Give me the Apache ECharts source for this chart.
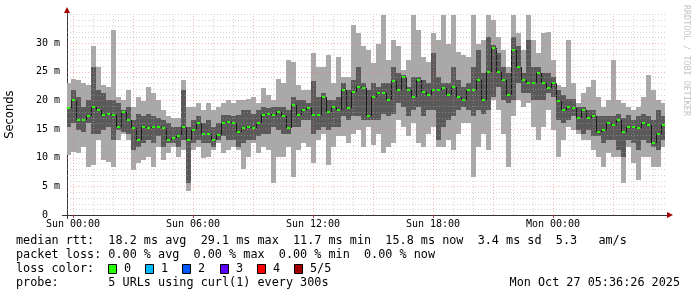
<!DOCTYPE html>
<html><head><meta charset="utf-8">
<script src="https://cdn.jsdelivr.net/npm/echarts@6/dist/echarts.min.js"></script>
<style>html,body{margin:0;padding:0;background:#fff}#c{width:697px;height:297px}</style>
</head><body><div id="c"></div>
<script>
// sampling grid (hours since Sun 00:00), 15-minute consolidation
const START_H = -0.25, STEP_H = 0.25;
const tickHours = [0, 6, 12, 18, 24];
const tickLabels = ['Sun 00:00', 'Sun 06:00', 'Sun 12:00', 'Sun 18:00', 'Mon 00:00'];

// round-trip times in ms
const rttMax = [
23.0,23.8,23.5,23.0,22.7,29.4,25.9,22.7,22.4,32.3,
20.6,20.1,21.8,18.9,20.6,19.8,22.4,21.2,20.1,18.3,
17.2,16.9,16.9,23.5,18.9,18.9,19.5,18.3,19.5,18.3,
18.9,19.5,20.1,19.5,20.1,
20.1,20.3,20.6,19.5,22.1,20.9,20.1,23.8,23.0,27.0,
26.7,22.7,21.8,21.8,28.2,25.9,25.9,27.9,23.0,27.6,
24.0,24.1,33.1,31.7,29.4,28.8,26.5,29.9,34.9,27.0,
30.5,29.4,25.3,27.0,34.9,32.3,27.6,26.7,31.7,30.5,
34.9,29.9,34.9,28.5,27.9,27.6,
34.9,29.9,30.5,34.9,34.0,31.1,28.8,25.9,34.9,31.7,
28.8,34.9,30.5,28.2,31.7,32.0,27.0,22.7,22.4,30.5,
23.0,19.5,21.2,22.4,23.5,20.6,18.9,20.1,27.0,20.1,
19.5,18.9,18.3,18.9,20.6,24.4,21.8,20.1,19.5];
const rttMin = [
10.5,11.0,10.8,11.9,8.4,8.7,13.1,9.6,9.3,8.4,
13.1,14.2,13.1,7.8,9.0,9.6,10.2,8.4,11.9,9.6,
10.8,11.9,10.2,11.3,4.1,11.3,11.9,9.9,10.2,11.3,
12.5,10.8,11.3,11.9,11.3,
8.1,10.2,12.5,10.8,11.9,11.3,5.5,10.2,10.2,11.9,
6.7,11.3,12.5,11.9,9.0,13.1,14.2,8.7,11.9,13.7,
13.7,12.5,14.2,14.8,11.9,15.4,12.2,14.2,10.8,11.9,
12.5,16.6,15.4,13.7,16.0,12.5,11.9,14.2,15.4,11.9,
11.9,13.1,11.3,14.2,16.0,16.0,
6.7,11.9,14.2,11.3,20.1,18.3,14.2,8.4,17.2,20.1,
18.9,19.5,15.4,13.1,15.4,18.3,14.8,10.2,13.1,15.4,
14.8,14.2,13.1,13.1,11.3,10.2,8.4,10.8,10.2,10.2,
5.5,11.9,9.0,6.1,10.2,10.2,8.4,8.4,11.9];
const rttHi = [
18.9,21.8,20.6,18.9,20.1,25.9,21.8,21.2,20.1,20.1,
19.5,18.3,18.9,16.6,17.7,17.2,17.7,17.2,16.9,16.6,
16.0,15.4,15.4,21.8,15.4,16.6,17.2,16.0,16.6,15.4,
16.0,17.4,17.4,17.2,17.4,
18.3,18.3,17.7,18.3,18.9,18.6,18.9,18.9,18.9,18.3,
20.6,20.1,20.1,19.5,23.3,20.6,21.2,20.1,20.1,20.6,
23.0,21.8,23.5,25.9,23.0,21.8,23.0,22.4,23.0,23.0,
25.9,24.7,24.4,22.4,24.1,24.1,23.5,23.0,28.2,24.1,
23.0,23.0,25.9,23.5,22.4,23.0,
25.9,28.8,24.7,31.1,29.6,28.2,25.9,24.7,31.1,29.4,
24.7,30.5,25.9,25.9,24.7,24.7,24.1,21.8,20.9,20.3,
20.3,18.9,18.9,18.3,18.3,17.2,17.2,17.2,17.2,17.7,
16.9,17.4,16.6,17.2,17.7,17.2,16.6,18.3,17.2];
const rttLo = [
15.4,16.0,14.8,14.5,16.0,14.2,14.2,14.8,15.4,13.1,
14.8,14.5,14.2,11.3,11.9,12.5,13.1,12.5,13.7,11.9,
12.5,12.5,11.9,13.1,5.5,12.5,13.1,12.5,12.5,11.9,
13.1,13.7,13.1,13.1,11.9,
12.5,13.1,13.1,13.7,14.2,14.2,15.4,14.8,14.2,14.2,
15.4,15.4,16.6,16.6,14.2,14.8,15.4,14.8,15.4,15.4,
17.2,16.6,17.2,17.2,16.6,16.6,16.6,16.6,17.7,17.2,
17.7,19.5,18.9,17.2,18.3,18.9,17.2,18.3,18.3,13.1,
15.4,16.6,17.2,18.3,18.9,18.3,
17.2,18.3,17.7,18.3,20.6,22.4,20.1,19.5,20.1,23.0,
21.2,21.2,20.1,20.1,20.1,21.2,20.6,16.6,16.0,16.6,
17.2,14.8,14.2,14.8,13.7,13.7,12.5,13.1,13.1,11.3,
10.2,13.1,12.5,11.3,13.1,12.5,11.9,11.3,13.1];
const rttMedian = [
18.6,20.1,16.6,16.6,17.2,18.9,18.3,17.4,17.7,17.4,
15.4,18.0,16.6,15.1,13.1,15.4,15.1,15.4,15.4,15.1,
13.1,13.4,13.7,15.4,13.1,14.8,16.0,14.2,14.2,13.1,
14.0,16.0,16.3,16.0,14.5,
15.1,15.4,15.1,16.0,17.4,17.7,17.4,18.0,17.2,15.1,
19.2,17.4,18.3,18.6,17.4,17.4,20.6,18.0,18.9,18.3,
21.8,18.6,21.5,22.4,22.1,17.2,20.6,21.2,21.2,20.1,
23.3,21.8,24.1,21.8,20.6,23.5,21.5,20.9,21.8,21.8,
22.1,20.9,22.4,20.6,20.1,21.8,
21.8,23.5,20.1,25.0,29.1,25.0,23.5,20.9,28.8,25.9,
23.5,23.0,23.0,24.7,23.0,22.1,23.0,19.8,18.3,18.9,
18.6,16.9,18.3,16.9,17.2,14.5,14.8,16.0,15.7,16.6,
14.5,15.4,15.4,15.1,16.0,15.7,12.5,14.2,15.7];

const legendLines = [
  'median rtt:  18.2 ms avg  29.1 ms max  11.7 ms min  15.8 ms now  3.4 ms sd  5.3   am/s',
  'packet loss: 0.00 % avg  0.00 % max  0.00 % min  0.00 % now',
  'loss color:',
  'probe:       5 URLs using curl(1) every 300s'
];
const lossLabels = ['0', '1', '2', '3', '4', '5/5'];
const lossColors = ['#26ff00', '#00b8ff', '#0059ff', '#5e00ff', '#ff0000', '#a00000'];
const stampText = 'Mon Oct 27 05:36:26 2025';
const sideText = 'RRDTOOL / TOBI OETIKER';

const X_MIN = -0.3, X_MAX = 29.6, Y_MAX = 35;
const rows = rttMedian.map((m, i) => [START_H + i * STEP_H, rttMin[i], rttLo[i], rttHi[i], rttMax[i], m, i > 0 ? rttMedian[i - 1] : m]);
const vGrid = []; for (let h = 0; h <= 29; h++) vGrid.push([h, h % 3 === 0 ? 1 : 0]);
const hGrid = []; for (let v = 1; v <= 35; v++) hGrid.push([v, (v % 5 === 0 && v < 35) ? 1 : 0]);

const chart = echarts.init(document.getElementById('c'), null, {renderer: 'canvas'});
const MONO = 'DejaVu Sans Mono';

function smoke(params, api) {
  const t = api.value(0);
  const x0 = Math.round(api.coord([t - STEP_H / 2, 0])[0]);
  const x1 = Math.round(api.coord([t + STEP_H / 2, 0])[0]);
  const y = k => Math.round(api.coord([t, api.value(k)])[1]);
  const yMin = y(1), yLo = y(2), yHi = y(3), yMax = y(4), yMed = y(5), yPrev = y(6);
  return {type: 'group', children: [
    {type: 'rect', shape: {x: x0, y: yMax, width: x1 - x0, height: yMin - yMax}, style: {fill: '#a9a9a9'}},
    {type: 'rect', shape: {x: x0, y: yHi, width: x1 - x0, height: yLo - yHi}, style: {fill: '#5a5a5a'}},
    {type: 'line', shape: {x1: x0 + 0.5, y1: yPrev, x2: x0 + 0.5, y2: yMed}, style: {stroke: '#1a1a1a', lineWidth: 1}}
  ]};
}
function median(params, api) {
  const t = api.value(0);
  const xc = api.coord([t, 0])[0];
  const ym = Math.round(api.coord([t, api.value(5)])[1]);
  return {type: 'rect', shape: {x: Math.round(xc - 1.5), y: ym - 1, width: 3, height: 2}, style: {fill: lossColors[0]}};
}
function vLine(params, api) {
  const h = api.value(0), major = api.value(1);
  const x = Math.round(api.coord([h, 0])[0]) + 0.5;
  const yb = api.coord([h, 0])[1], yt = api.coord([h, Y_MAX])[1];
  return {type: 'line', shape: {x1: x, y1: yb, x2: x, y2: yt},
    style: {stroke: major ? 'rgba(240,110,110,0.5)' : 'rgba(170,170,170,0.5)', lineWidth: 1, lineDash: [1, 2]}};
}
function hLine(params, api) {
  const v = api.value(0), major = api.value(1);
  const y = Math.round(api.coord([0, v])[1]) + 0.5;
  const xl = api.coord([X_MIN, v])[0], xr = api.coord([X_MAX, v])[0];
  return {type: 'line', shape: {x1: xl, y1: y, x2: xr, y2: y},
    style: {stroke: major ? 'rgba(240,110,110,0.5)' : 'rgba(170,170,170,0.5)', lineWidth: 1, lineDash: [1, 2]}};
}

const graphic = [];
const lineY = [241, 255, 269, 283];
legendLines.forEach((s, i) => graphic.push({type: 'text', x: 16, y: lineY[i],
  style: {text: s, font: '11.8px ' + MONO, fill: '#000', textVerticalAlign: 'middle'}}));
const boxX = [108, 145, 182, 219.5, 257, 294];
lossLabels.forEach((s, i) => {
  graphic.push({type: 'rect', shape: {x: Math.round(boxX[i]) + 0.5, y: 264.5, width: 8, height: 9},
    style: {fill: lossColors[i], stroke: '#000', lineWidth: 1}});
  graphic.push({type: 'text', x: Math.round(boxX[i]) + 16, y: 269,
    style: {text: s, font: '11.8px ' + MONO, fill: '#000', textVerticalAlign: 'middle'}});
});
graphic.push({type: 'text', x: 680, y: 283, style: {text: stampText, font: '11.8px ' + MONO, fill: '#000', textAlign: 'right', textVerticalAlign: 'middle'}});
graphic.push({type: 'text', x: 686, y: 5, rotation: -Math.PI / 2,
  style: {text: sideText, font: '8.4px ' + MONO, fill: '#c4c4c4', textAlign: 'left', textVerticalAlign: 'middle'}});
graphic.push({type: 'polygon', shape: {points: [[64, 13], [70, 13], [67, 7]]}, style: {fill: '#a00000'}});
graphic.push({type: 'polygon', shape: {points: [[667, 212], [667, 218], [673, 215]]}, style: {fill: '#a00000'}});
graphic.push({type: 'line', shape: {x1: 62, y1: 215.5, x2: 667, y2: 215.5}, style: {stroke: '#333', lineWidth: 1}});
graphic.push({type: 'line', shape: {x1: 67.5, y1: 13, x2: 67.5, y2: 219}, style: {stroke: '#333', lineWidth: 1}});

chart.setOption({
  animation: false,
  backgroundColor: '#fff',
  grid: {left: 67, right: 32, top: 215 - Y_MAX * (172 / 30), bottom: 82, containLabel: false, outerBoundsMode: 'none'},
  xAxis: {type: 'value', min: X_MIN, max: X_MAX,
    axisLine: {show: false, onZero: false},
    axisTick: {show: true, customValues: tickHours, length: 3, lineStyle: {color: '#c04040'}},
    axisLabel: {customValues: tickHours, formatter: v => tickLabels[tickHours.indexOf(Math.round(v))] || '',
      fontFamily: MONO, fontSize: 10, color: '#000', margin: 4},
    splitLine: {show: false}},
  yAxis: {type: 'value', min: 0, max: Y_MAX, interval: 5,
    name: 'Seconds', nameLocation: 'middle', nameRotate: 90, nameGap: 51,
    nameTextStyle: {fontFamily: 'DejaVu Sans', fontSize: 11.5, color: '#000'},
    axisLine: {show: false, onZero: false},
    axisTick: {show: false},
    axisLabel: {formatter: v => v === 35 ? '' : (v === 0 ? '0  ' : v + ' m'), fontFamily: MONO, fontSize: 10, color: '#000', margin: 7},
    splitLine: {show: false}},
  series: [
    {type: 'custom', data: rows, renderItem: smoke, encode: {x: 0, y: [1, 4]}, clip: true, z: 2, silent: true},
    {type: 'custom', data: vGrid, renderItem: vLine, encode: {x: 0}, clip: false, z: 3, silent: true},
    {type: 'custom', data: hGrid, renderItem: hLine, encode: {y: 0}, clip: false, z: 3, silent: true},
    {type: 'custom', data: rows, renderItem: median, encode: {x: 0, y: 5}, clip: true, z: 4, silent: true}
  ],
  graphic: graphic
});
</script></body></html>
